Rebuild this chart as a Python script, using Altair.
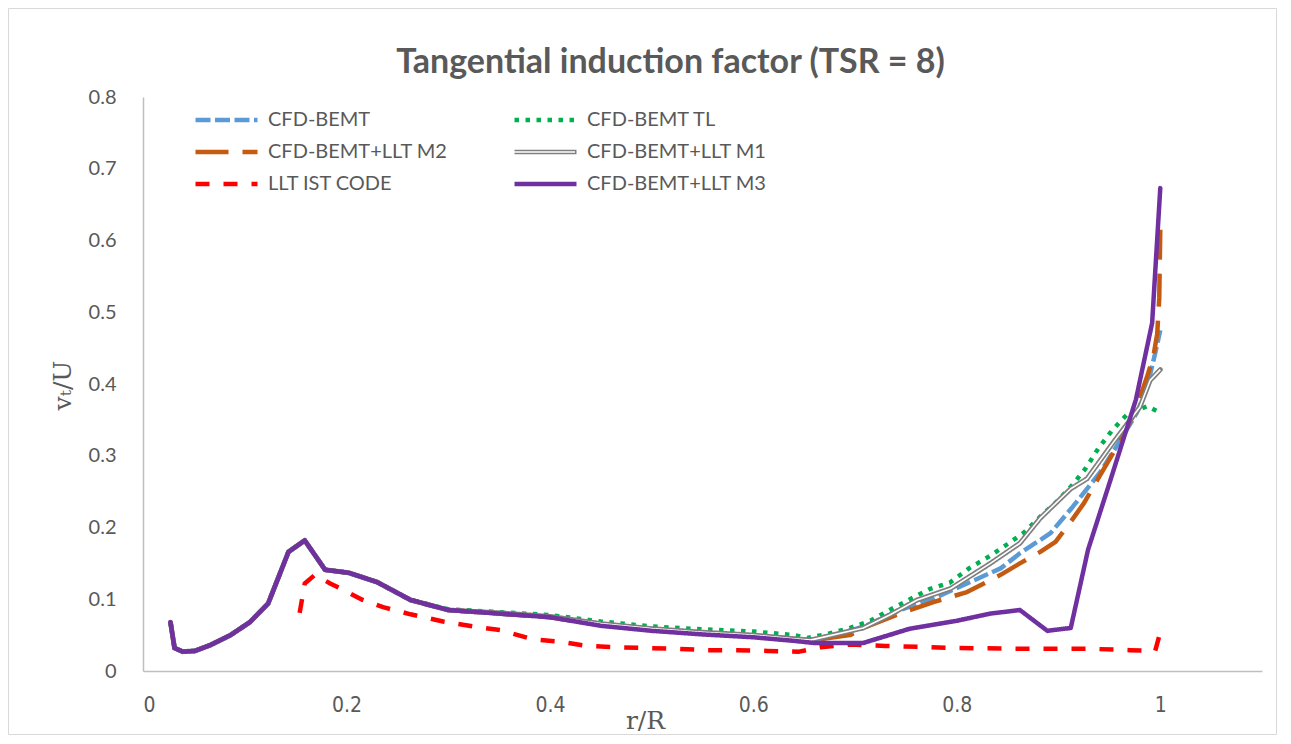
import altair as alt
import pandas as pd

# ---------------- data ----------------
series_names = ["CFD-BEMT", "CFD-BEMT TL", "CFD-BEMT+LLT M2",
                "CFD-BEMT+LLT M1", "LLT IST CODE", "CFD-BEMT+LLT M3"]
series_colors = ["#5B9BD5", "#00B050", "#C55A11", "#7F7F7F", "#FF0000", "#7030A0"]
series_dashes = [[15, 4.5], [4.5, 6.5], [33, 14], [1, 0], [14, 14], [1, 0]]
# legend: left column and right column
legend_col1 = ["CFD-BEMT", "CFD-BEMT+LLT M2", "LLT IST CODE"]
legend_col2 = ["CFD-BEMT TL", "CFD-BEMT+LLT M1", "CFD-BEMT+LLT M3"]

x_ticks = [0, 0.2, 0.4, 0.6, 0.8, 1.0]
y_ticks = [0, 0.1, 0.2, 0.3, 0.4, 0.5, 0.6, 0.7, 0.8]

r_bemt = [0.027, 0.031, 0.039, 0.051, 0.066, 0.086, 0.105, 0.123, 0.143, 0.159, 0.179,
          0.202, 0.230, 0.263, 0.300, 0.350, 0.400, 0.450, 0.500, 0.550, 0.600, 0.640,
          0.660, 0.678, 0.712, 0.744, 0.777, 0.810, 0.843, 0.862, 0.892, 0.914, 0.941,
          0.961, 0.977, 0.987, 0.995, 1.000]
v_bemt = [0.068, 0.032, 0.027, 0.028, 0.036, 0.050, 0.068, 0.094, 0.166, 0.182, 0.141,
          0.137, 0.124, 0.099, 0.085, 0.080, 0.075, 0.064, 0.057, 0.052, 0.048, 0.043,
          0.042, 0.048, 0.064, 0.085, 0.101, 0.122, 0.143, 0.164, 0.192, 0.229, 0.277,
          0.322, 0.360, 0.395, 0.443, 0.475]

r_tl = [0.027, 0.031, 0.039, 0.051, 0.066, 0.086, 0.105, 0.123, 0.143, 0.159, 0.179,
        0.202, 0.230, 0.263, 0.300, 0.350, 0.400, 0.450, 0.500, 0.550, 0.600, 0.640,
        0.653, 0.674, 0.695, 0.715, 0.734, 0.754, 0.773, 0.793, 0.812, 0.831, 0.850,
        0.866, 0.882, 0.899, 0.914, 0.927, 0.939, 0.953, 0.967, 0.987, 1.000]
v_tl = [0.068, 0.032, 0.027, 0.028, 0.036, 0.050, 0.068, 0.094, 0.166, 0.182, 0.141,
        0.137, 0.124, 0.099, 0.086, 0.082, 0.078, 0.069, 0.062, 0.058, 0.055, 0.050,
        0.046, 0.052, 0.060, 0.070, 0.085, 0.100, 0.114, 0.123, 0.143, 0.159, 0.177,
        0.193, 0.215, 0.237, 0.260, 0.283, 0.310, 0.336, 0.357, 0.369, 0.360]

r_m2 = [0.027, 0.031, 0.039, 0.051, 0.066, 0.086, 0.105, 0.123, 0.143, 0.159, 0.179,
        0.202, 0.230, 0.263, 0.300, 0.350, 0.400, 0.450, 0.500, 0.550, 0.600, 0.640,
        0.663, 0.695, 0.712, 0.744, 0.777, 0.810, 0.843, 0.862, 0.882, 0.897, 0.914,
        0.925, 0.938, 0.948, 0.961, 0.975, 0.987, 0.993, 0.997, 0.999, 1.000]
v_m2 = [0.068, 0.032, 0.027, 0.028, 0.036, 0.050, 0.068, 0.094, 0.166, 0.182, 0.141,
        0.137, 0.124, 0.099, 0.085, 0.080, 0.075, 0.064, 0.057, 0.052, 0.048, 0.043,
        0.044, 0.050, 0.062, 0.080, 0.096, 0.110, 0.134, 0.150, 0.166, 0.180, 0.212,
        0.234, 0.266, 0.290, 0.322, 0.360, 0.410, 0.437, 0.470, 0.520, 0.615]

r_m1 = [0.027, 0.031, 0.039, 0.051, 0.066, 0.086, 0.105, 0.123, 0.143, 0.159, 0.179,
        0.202, 0.230, 0.263, 0.300, 0.350, 0.400, 0.450, 0.500, 0.550, 0.600, 0.640,
        0.656, 0.708, 0.734, 0.761, 0.794, 0.833, 0.862, 0.882, 0.912, 0.928, 0.954,
        0.980, 0.990, 1.000]
v_m1 = [0.068, 0.032, 0.027, 0.028, 0.036, 0.050, 0.068, 0.094, 0.166, 0.182, 0.141,
        0.137, 0.124, 0.099, 0.085, 0.081, 0.076, 0.066, 0.059, 0.054, 0.050, 0.045,
        0.043, 0.060, 0.078, 0.099, 0.115, 0.150, 0.178, 0.213, 0.254, 0.268, 0.319,
        0.368, 0.405, 0.420]

r_llt = [0.154, 0.159, 0.169, 0.184, 0.197, 0.216, 0.236, 0.263, 0.295, 0.325, 0.351,
         0.384, 0.410, 0.436, 0.466, 0.495, 0.525, 0.554, 0.584, 0.614, 0.645, 0.666,
         0.695, 0.730, 0.800, 0.870, 0.930, 0.970, 0.995, 1.000]
v_llt = [0.081, 0.122, 0.134, 0.122, 0.113, 0.099, 0.089, 0.079, 0.069, 0.062, 0.057,
         0.044, 0.041, 0.035, 0.033, 0.032, 0.031, 0.029, 0.029, 0.028, 0.027, 0.033,
         0.037, 0.035, 0.032, 0.031, 0.031, 0.029, 0.028, 0.054]

r_m3 = [0.027, 0.031, 0.039, 0.051, 0.066, 0.086, 0.105, 0.123, 0.143, 0.159, 0.179,
        0.202, 0.230, 0.263, 0.300, 0.350, 0.400, 0.450, 0.500, 0.550, 0.600, 0.640,
        0.660, 0.708, 0.754, 0.800, 0.833, 0.862, 0.889, 0.912, 0.929, 0.951, 0.976,
        0.992, 1.000]
v_m3 = [0.068, 0.032, 0.027, 0.028, 0.036, 0.050, 0.068, 0.094, 0.166, 0.182, 0.141,
        0.137, 0.124, 0.099, 0.085, 0.080, 0.075, 0.063, 0.056, 0.051, 0.047, 0.042,
        0.039, 0.039, 0.059, 0.070, 0.080, 0.085, 0.056, 0.060, 0.169, 0.266, 0.378,
        0.485, 0.673]

series_data = dict(zip(series_names, [(r_bemt, v_bemt), (r_tl, v_tl), (r_m2, v_m2),
                                      (r_m1, v_m1), (r_llt, v_llt), (r_m3, v_m3)]))

# ---------------- styling ----------------
GRAY_TXT = "#595959"
AXIS_GRAY = "#BFBFBF"
W, H = 1119, 574
PAD = {"left": 135, "top": 89, "right": 15, "bottom": 64}
M1 = "CFD-BEMT+LLT M1"
M3 = "CFD-BEMT+LLT M3"
LEG_X1, LEG_X2, LEG_Y, ROW_H, ROW_PAD = 50, 369, 13, 20, 12

x_scale = alt.Scale(domain=[0, 1.1], nice=False, zero=False)
y_scale = alt.Scale(domain=[0, 0.8], nice=False)

x_axis = alt.Axis(values=x_ticks, format=".1~f", title="r/R", grid=False, ticks=False,
                  domainColor=AXIS_GRAY, domainWidth=1.5,
                  labelFont="DejaVu Sans Condensed, Liberation Sans Narrow, sans-serif",
                  labelFontSize=21, labelColor=GRAY_TXT, labelPadding=23,
                  titleFont="DejaVu Serif", titleFontSize=25, titleFontWeight="normal",
                  titleColor=GRAY_TXT, titleX=502, titleY=49, titleBaseline="middle",
                  titleAlign="center")
y_axis = alt.Axis(values=y_ticks, format=".1~f", title="vₜ/U", grid=False, ticks=False,
                  domainColor=AXIS_GRAY, domainWidth=1.5,
                  labelFont="Lato", labelFontSize=20, labelColor=GRAY_TXT, labelPadding=27,
                  titleFont="DejaVu Serif", titleFontSize=25, titleFontWeight="normal",
                  titleColor=GRAY_TXT, titleX=-81, titleY=288, titleBaseline="middle",
                  titleAlign="center", titleAngle=270)

color_map = dict(zip(series_names, series_colors))
dash_map = dict(zip(series_names, series_dashes))


def legend(x, y, stroke_width, **extra):
    return alt.Legend(title=None, orient="none", legendX=x, legendY=y, direction="vertical",
                      symbolType="stroke", symbolSize=3844, symbolStrokeWidth=stroke_width,
                      clipHeight=ROW_H, labelFont="Lato", labelFontSize=20,
                      labelColor=GRAY_TXT, labelOffset=8, rowPadding=ROW_PAD,
                      labelLimit=400, **extra)


def series_layer(name, leg, cscale, dscale):
    r, v = series_data[name]
    df = pd.DataFrame({"r": r, "v": v, "series": name})
    solid = name in (M1, M3)
    return alt.Chart(df).mark_line(
        strokeWidth=5 if name == M1 else 4.5,
        strokeCap="round" if solid else "butt", strokeJoin="round"
    ).encode(
        x=alt.X("r:Q", scale=x_scale, axis=x_axis),
        y=alt.Y("v:Q", scale=y_scale, axis=y_axis),
        color=alt.Color("series:N", scale=cscale, legend=leg),
        strokeDash=alt.StrokeDash("series:N", scale=dscale, legend=leg),
    )


def group(names, leg_x):
    leg = legend(leg_x, LEG_Y, 4.5)
    cscale = alt.Scale(domain=names, range=[color_map[n] for n in names])
    dscale = alt.Scale(domain=names, range=[dash_map[n] for n in names])
    return {n: series_layer(n, leg, cscale, dscale) for n in names}


def m1_inner():
    # white core of the double line used for "CFD-BEMT+LLT M1" (and its legend symbol)
    r, v = series_data[M1]
    df = pd.DataFrame({"r": r, "v": v, "inner": [M1 + " inner"] * len(r)})
    leg = legend(LEG_X2, LEG_Y + ROW_H + ROW_PAD, 1.6, labelExpr="''")
    return alt.Chart(df).mark_line(strokeWidth=1.6, strokeJoin="round").encode(
        x=alt.X("r:Q", scale=x_scale, axis=x_axis),
        y=alt.Y("v:Q", scale=y_scale, axis=y_axis),
        stroke=alt.Stroke("inner:N", scale=alt.Scale(domain=[M1 + " inner"], range=["white"]),
                          legend=leg),
    )


g1 = group(legend_col1, LEG_X1)
g2 = group(legend_col2, LEG_X2)

frame = alt.Chart(pd.DataFrame({"k": [0]})).mark_rect(
    fillOpacity=0, stroke="#D9D9D9", strokeWidth=1
).encode(
    x=alt.value(-PAD["left"] + 0.5), x2=alt.value(W + PAD["right"] - 0.5),
    y=alt.value(-PAD["top"] + 0.5), y2=alt.value(H + PAD["bottom"] - 0.5),
)

group_a = alt.layer(g1["CFD-BEMT"], g1["CFD-BEMT+LLT M2"], g1["LLT IST CODE"])
group_b = alt.layer(g2["CFD-BEMT TL"], g2[M1], m1_inner(), g2[M3])

chart = alt.layer(frame, group_a, group_b).resolve_scale(
    color="independent", strokeDash="independent", stroke="independent"
).properties(
    width=W, height=H, padding=PAD,
    autosize=alt.AutoSizeParams(type="none"),
    title=alt.TitleParams(text="Tangential induction factor (TSR = 8)", font="Lato",
                          fontSize=34, fontWeight="bold", color=GRAY_TXT,
                          anchor="middle", dx=-32, offset=-72),
    background="white",
).configure_view(stroke="transparent")

chart.save("out.html", embed_options={"renderer": "svg", "actions": False})
